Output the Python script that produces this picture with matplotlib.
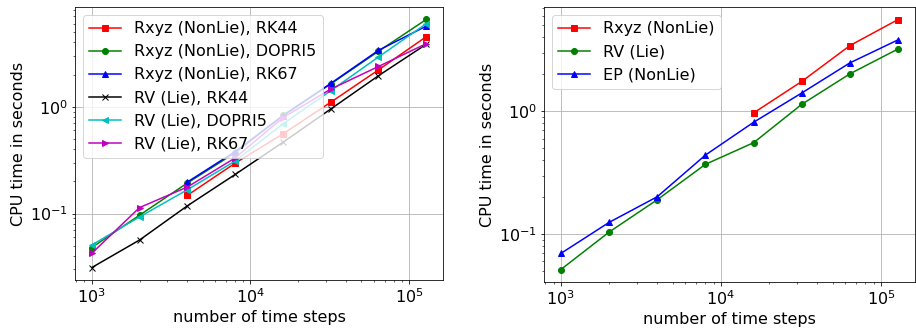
import matplotlib
matplotlib.use("Agg")
import matplotlib.pyplot as plt
import numpy as np

# number of time steps
steps = [1000, 2000, 4000, 8000, 16000, 32000, 64000, 128000]

# left panel: CPU times (None = no run)
rxyz_rk44 = [None, None, 0.148, 0.296, 0.556, 1.10, 2.21, 4.52]
rxyz_dopri5 = [0.048, 0.0965, 0.193, 0.37, 0.83, 1.63, 3.30, 6.56]
rxyz_rk67 = [None, None, 0.197, 0.38, 0.82, 1.65, 3.37, 5.68]
rv_rk44 = [0.0312, 0.0565, 0.118, 0.232, 0.464, 0.95, 1.95, 3.84]
rv_dopri5 = [0.0507, 0.093, 0.167, 0.31, 0.69, 1.41, 2.92, 5.98]
rv_rk67 = [0.0424, 0.1137, 0.177, 0.331, 0.79, 1.46, 2.38, 3.89]

# right panel
rxyz_nonlie = [None, None, None, None, 0.97, 1.75, 3.43, 5.59]
rv_lie = [0.0515, 0.1038, 0.1905, 0.370, 0.555, 1.14, 2.02, 3.22]
ep_nonlie = [0.0696, 0.1245, 0.2015, 0.44, 0.814, 1.41, 2.48, 3.82]


def clean(x, y):
    pairs = [(a, b) for a, b in zip(x, y) if b is not None]
    return [p[0] for p in pairs], [p[1] for p in pairs]


plt.rcParams['font.size'] = 16
fig = plt.figure(figsize=(916 / 72, 329 / 72), dpi=72)
ax1 = fig.add_axes([75 / 916, 49 / 329, 368 / 916, 273 / 329])
ax2 = fig.add_axes([544 / 916, 47 / 329, 371 / 916, 275 / 329])

left = [
    (rxyz_rk44, 'rs-', 'Rxyz (NonLie), RK44'),
    (rxyz_dopri5, 'go-', 'Rxyz (NonLie), DOPRI5'),
    (rxyz_rk67, 'b^-', 'Rxyz (NonLie), RK67'),
    (rv_rk44, 'kx-', 'RV (Lie), RK44'),
    (rv_dopri5, 'c<-', 'RV (Lie), DOPRI5'),
    (rv_rk67, 'm>-', 'RV (Lie), RK67'),
]
for y, fmt, lab in left:
    xs, ys = clean(steps, y)
    ax1.loglog(xs, ys, fmt, label=lab)

right = [
    (rxyz_nonlie, 'rs-', 'Rxyz (NonLie)'),
    (rv_lie, 'go-', 'RV (Lie)'),
    (ep_nonlie, 'b^-', 'EP (NonLie)'),
]
for y, fmt, lab in right:
    xs, ys = clean(steps, y)
    ax2.loglog(xs, ys, fmt, label=lab)

for ax in (ax1, ax2):
    ax.grid(True)
    ax.set_xlabel('number of time steps')
    ax.set_ylabel('CPU time in seconds')
    ax.legend(loc='upper left')

fig.savefig('out.png', dpi=72)
